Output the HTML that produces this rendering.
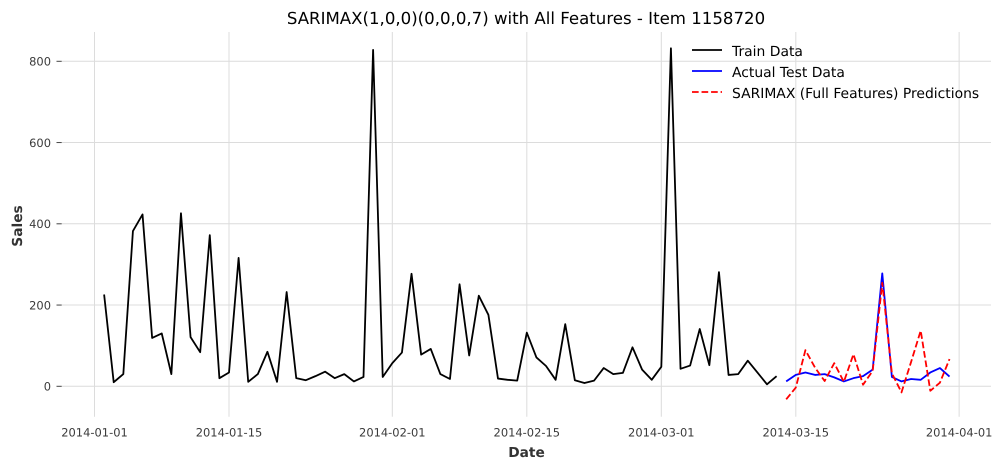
<!DOCTYPE html>
<html>
<head>
<meta charset="utf-8">
<title>SARIMAX Chart</title>
<style>
html,body{margin:0;padding:0;background:#fff;width:1002px;height:469px;overflow:hidden}
svg{display:block;font-family:"DejaVu Sans","Liberation Sans",sans-serif;text-rendering:geometricPrecision}
</style>
</head>
<body>
<svg id="chart" xmlns="http://www.w3.org/2000/svg" width="1002" height="469" viewBox="0 0 1002 469">
  <rect width="1002" height="469" fill="#ffffff"/>
  <g id="grid"></g>
  <g id="ticks"></g>
  <g id="series"></g>
  <text x="526" y="24" text-anchor="middle" font-size="16.6" fill="#000000">SARIMAX(1,0,0)(0,0,0,7) with All Features - Item 1158720</text>
  <text x="526.5" y="457" text-anchor="middle" font-size="13.75" font-weight="bold" fill="#333333">Date</text>
  <text transform="translate(22,226) rotate(-90)" text-anchor="middle" font-size="13.75" font-weight="bold" fill="#333333">Sales</text>
  <g>
    <line x1="692" y1="50" x2="722" y2="50" stroke="#000000" stroke-width="1.8"/>
    <text x="732" y="56" font-size="13.9" fill="#000000">Train Data</text>
    <line x1="692" y1="71" x2="722" y2="71" stroke="#0000ff" stroke-width="1.8"/>
    <text x="732" y="77" font-size="13.9" fill="#000000">Actual Test Data</text>
    <line x1="692" y1="92" x2="722" y2="92" stroke="#ff0000" stroke-width="1.8" stroke-dasharray="6.66 2.88"/>
    <text x="732" y="98" font-size="13.9" fill="#000000">SARIMAX (Full Features) Predictions</text>
  </g>
</svg>
<script>
const xTickDates = ['2014-01-01','2014-01-15','2014-02-01','2014-02-15','2014-03-01','2014-03-15','2014-04-01'];
const yTickValues = [0,200,400,600,800];
const trainStart = '2014-01-02';
const trainValues = [226,10,30,382,423,119,130,30,426,121,84,372,20,34,316,11,30,85,11,232,20,15,25,36,20,30,12,23,828,23,57,83,277,78,92,30,18,251,76,223,176,19,16,14,132,71,50,16,153,15,8,14,45,30,33,96,41,16,48,832,43,51,141,52,281,28,30,63,34,5,25];
const testStart = '2014-03-14';
const testValues = [12,28,34,28,30,22,12,20,25,41,278,23,12,18,16,34,45,24];
const predictionValues = [-32,-3,89,46,13,57,11,79,4,38,255,32,-15,60,137,-11,9,67];

const NS = 'http://www.w3.org/2000/svg';
const DAY = 86400000;
const originTime = Date.parse('2014-01-01T00:00:00Z');
const plot = {left:61.7,right:991,top:32,bottom:416.7};
function xScale(t){return 94.5 + (t-originTime)/DAY*9.607;}
function yScale(v){return 386.3 - v*0.40625;}
function dateTime(s){return Date.parse(s+'T00:00:00Z');}
function make(tag,attrs,parent){
  const el=document.createElementNS(NS,tag);
  for(const k in attrs){el.setAttribute(k,attrs[k]);}
  parent.appendChild(el);
  return el;
}
const gridG=document.getElementById('grid');
const ticksG=document.getElementById('ticks');
const seriesG=document.getElementById('series');

xTickDates.forEach(function(d){
  const x=xScale(dateTime(d));
  const line=make('line',{x1:x,x2:x,y1:plot.top,y2:plot.bottom,stroke:'#dcdcdc','stroke-width':1},gridG);
  
  
  const t=make('text',{x:x,y:436.5,'text-anchor':'middle','font-size':11.46,fill:'#3a3a3a'},ticksG);
  
  
  t.textContent=d;
});
yTickValues.forEach(function(v){
  const y=yScale(v);
  const line=make('line',{x1:plot.left,x2:plot.right,y1:y,y2:y,stroke:'#dcdcdc','stroke-width':1},gridG);
  
  
  const tick=make('line',{x1:56.5,x2:plot.left,y1:y,y2:y,stroke:'#444444','stroke-width':1},ticksG);
  
  
  const t=make('text',{x:51,y:y+4.2,'text-anchor':'end','font-size':11.46,fill:'#3a3a3a'},ticksG);
  
  
  t.textContent=String(v);
});
function pointsFor(start,values){
  const t0=dateTime(start);
  return values.map(function(v,i){return xScale(t0+i*DAY).toFixed(2)+','+yScale(v).toFixed(2);}).join(' ');
}
const trainLine=make('polyline',{points:pointsFor(trainStart,trainValues),fill:'none',stroke:'#000000','stroke-width':1.8,'stroke-linejoin':'round'},seriesG);


const testLine=make('polyline',{points:pointsFor(testStart,testValues),fill:'none',stroke:'#0000ff','stroke-width':1.8,'stroke-linejoin':'round'},seriesG);


const predLine=make('polyline',{points:pointsFor(testStart,predictionValues),fill:'none',stroke:'#ff0000','stroke-width':1.8,'stroke-dasharray':'6.66 2.88','stroke-linejoin':'round'},seriesG);


</script>
</body>
</html>
